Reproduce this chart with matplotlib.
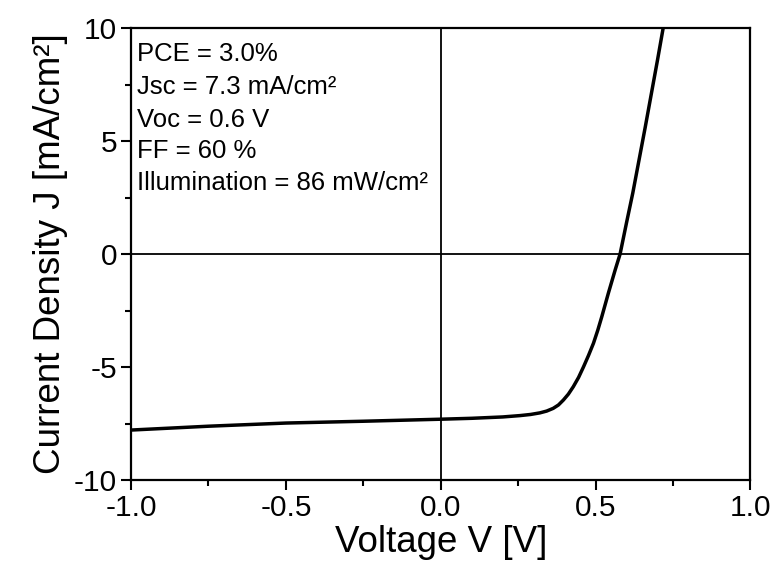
import matplotlib
matplotlib.use("Agg")
import matplotlib.pyplot as plt
from matplotlib.ticker import MultipleLocator

plt.rcParams['font.family'] = ['Liberation Sans', 'DejaVu Sans']
plt.rcParams['axes.unicode_minus'] = False

# Curva J-V
voltaje = [-1.0, -0.75, -0.5, -0.25, 0.0, 0.1, 0.2, 0.256, 0.29, 0.32, 0.342, 0.363,
           0.38, 0.396, 0.412, 0.428, 0.445, 0.461, 0.477, 0.493, 0.507, 0.52,
           0.541, 0.563, 0.579, 0.6, 0.62, 0.64, 0.66, 0.68, 0.70, 0.72]
densidad = [-7.79, -7.62, -7.48, -7.40, -7.31, -7.27, -7.21, -7.15, -7.10, -7.03, -6.95, -6.83,
            -6.68, -6.46, -6.20, -5.87, -5.46, -4.99, -4.49, -3.95, -3.37, -2.77,
            -1.74, -0.71, 0.0, 1.4, 2.7, 4.15, 5.6, 7.1, 8.6, 10.15]

etiquetas = ["PCE = 3.0%", "Jsc = 7.3 mA/cm²", "Voc = 0.6 V", "FF = 60 %",
             "Illumination = 86 mW/cm²"]
lineas_base = [61, 94, 127, 158, 190]  # pixeles de la linea base

fig = plt.figure(figsize=(7.77, 5.69), dpi=100)
ax = fig.add_axes([131 / 777, 1 - 480 / 569, 619.5 / 777, 452 / 569])

ax.axhline(0, color='black', lw=1.3, zorder=1)
ax.axvline(0, color='black', lw=1.3, zorder=1)
ax.plot(voltaje, densidad, color='black', lw=2.5, zorder=3, solid_joinstyle='round')

ax.set_xlim(-1.0, 1.0)
ax.set_ylim(-10, 10)
ax.xaxis.set_major_locator(MultipleLocator(0.5))
ax.xaxis.set_minor_locator(MultipleLocator(0.25))
ax.yaxis.set_major_locator(MultipleLocator(5))
ax.yaxis.set_minor_locator(MultipleLocator(2.5))
ax.xaxis.set_major_formatter(matplotlib.ticker.FormatStrFormatter('%.1f'))
ax.tick_params(which='major', direction='out', length=7, width=1.5, labelsize=21.5,
               top=False, right=False, pad=3)
ax.tick_params(which='minor', direction='out', length=4, width=1.5, top=False, right=False)
for s in ax.spines.values():
    s.set_linewidth(1.6)

ax.set_xlabel('Voltage V [V]', fontsize=26.5, labelpad=2)
ax.set_ylabel('Current Density J [mA/cm²]', fontsize=26.5, labelpad=4)

for texto, base in zip(etiquetas, lineas_base):
    ax.text(0.009, (480 - base) / 452, texto, transform=ax.transAxes,
            fontsize=18.5, va='baseline', ha='left')

fig.savefig('out.png', dpi=100)
